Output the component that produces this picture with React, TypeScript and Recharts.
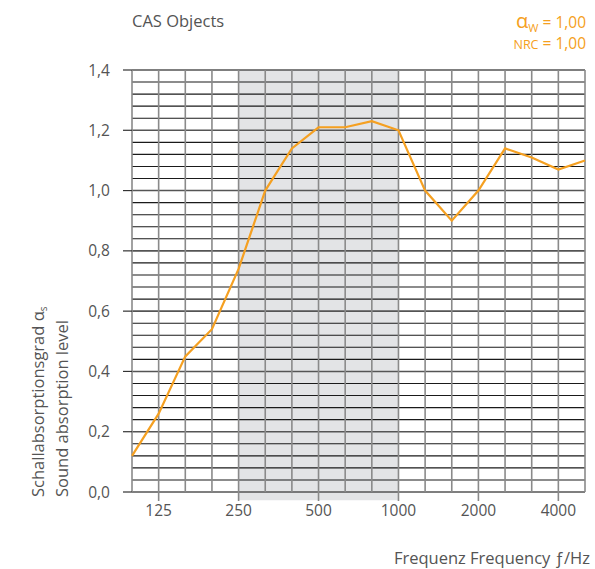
import React from 'react';
import { LineChart, Line, XAxis, YAxis, ReferenceLine, ReferenceArea } from 'recharts';

// third-octave bands, 100 Hz .. 5000 Hz
const FREQS = ['100', '125', '160', '200', '250', '315', '400', '500', '630', '800', '1000', '1250', '1600', '2000', '2500', '3150', '4000', '5000'];
const ALPHA = [0.12, 0.26, 0.45, 0.54, 0.74, 1.0, 1.14, 1.21, 1.21, 1.23, 1.2, 1.0, 0.9, 1.0, 1.14, 1.11, 1.07, 1.1];
const X_LABELS = ['125', '250', '500', '1000', '2000', '4000'];
const Y_TICKS = [0, 0.2, 0.4, 0.6, 0.8, 1.0, 1.2, 1.4];
const SHADE_FROM = '250';
const SHADE_TO = '1000';

const ORANGE = '#f5a021';
const TEXT = '#545454';
const FONT = '"Open Sans", sans-serif';

const data = FREQS.map((f, i) => ({ idx: i, f, alpha: ALPHA[i] }));
const xTicks = X_LABELS.map((l) => FREQS.indexOf(l));
const minorY = Array.from({ length: 36 }, (_, i) => Math.round(i * 4) / 100);

const fmtY = (v: number) => v.toFixed(1).replace('.', ',');

export default function App() {
  return (
    <div style={{ position: 'absolute', left: 0, top: 0, width: 595, height: 569, background: '#fff', fontFamily: FONT }}>
      <LineChart width={595} height={569} data={data} margin={{ top: 70, right: 10, bottom: 47, left: 72 }}>
        <XAxis
          type="number"
          dataKey="idx"
          domain={[0, FREQS.length - 1]}
          ticks={xTicks}
          tickFormatter={(v: number) => FREQS[v]}
          axisLine={false}
          tickSize={9}
          tickMargin={4}
          tickLine={{ stroke: '#8a8a8a', strokeWidth: 1.6 }}
          tick={{ fill: TEXT, fontSize: 15.5, fontFamily: FONT }}
          height={30}
        />
        <YAxis
          type="number"
          domain={[0, 1.4]}
          ticks={Y_TICKS}
          tickFormatter={fmtY}
          axisLine={false}
          tickSize={9}
          tickMargin={13}
          tickLine={{ stroke: '#333', strokeWidth: 1.2 }}
          tick={{ fill: TEXT, fontSize: 15.5, fontFamily: FONT }}
          width={60}
        />
        <ReferenceArea
          x1={FREQS.indexOf(SHADE_FROM)}
          x2={FREQS.indexOf(SHADE_TO)}
          y1={-0.027}
          y2={1.4}
          ifOverflow="visible"
          fill="#e3e4e6"
          fillOpacity={1}
          stroke="none"
        />
        {minorY.map((v) => {
          const major = Math.round(v * 100) % 20 === 0;
          return (
            <ReferenceLine
              key={'h' + v}
              y={v}
              stroke={major ? '#555' : '#1a1a1a'}
              strokeWidth={major ? 1.6 : 1.1}
            />
          );
        })}
        {FREQS.map((f, i) => (
          <ReferenceLine key={'v' + f} x={i} stroke="#8a8a8a" strokeWidth={1.6} />
        ))}
        <Line
          type="linear"
          dataKey="alpha"
          stroke={ORANGE}
          strokeWidth={2.2}
          dot={false}
          isAnimationActive={false}
        />
      </LineChart>

      <svg width={595} height={569} style={{ position: 'absolute', left: 0, top: 0, pointerEvents: 'none' }}>
        <text x={132} y={27} fontSize={16.5} fill={TEXT} fontFamily={FONT}>CAS Objects</text>
        <text x={586} y={28} textAnchor="end" fill={ORANGE} fontFamily={FONT} fontSize={15.5}>
          <tspan fontSize={20}>α</tspan>
          <tspan fontSize={11} dy={4}>W</tspan>
          <tspan dy={-4}> = 1,00</tspan>
        </text>
        <text x={586} y={49} textAnchor="end" fill={ORANGE} fontFamily={FONT} fontSize={15.5}>
          <tspan fontSize={12.5}>NRC</tspan>
          <tspan> = 1,00</tspan>
        </text>
        <text transform="translate(44,497) rotate(-90)" fontSize={16.5} fill={TEXT} fontFamily={FONT}>
          Schallabsorptionsgrad α<tspan fontSize={10} dy={3}>s</tspan>
        </text>
        <text transform="translate(68,497) rotate(-90)" fontSize={16.5} fill={TEXT} fontFamily={FONT}>
          Sound absorption level
        </text>
        <text x={590} y={564} textAnchor="end" fontSize={16.5} fill={TEXT} fontFamily={FONT}>
          Frequenz Frequency ƒ/Hz
        </text>
      </svg>
    </div>
  );
}
